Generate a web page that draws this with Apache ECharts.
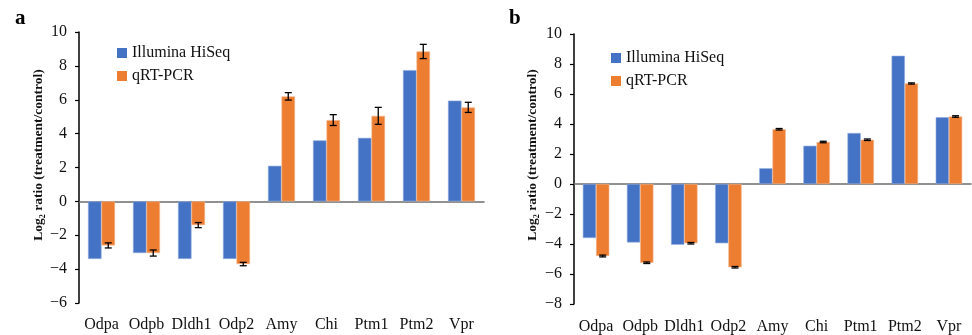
<!DOCTYPE html>
<html><head><meta charset="utf-8">
<script src="https://cdn.jsdelivr.net/npm/echarts@6/dist/echarts.min.js"></script>
<style>html,body{margin:0;padding:0;background:#fff}#c{width:972px;height:335px}</style>
</head><body><div id="c"></div>
<script>
const categories = ['Odpa','Odpb','Dldh1','Odp2','Amy','Chi','Ptm1','Ptm2','Vpr'];
const seriesNames = ['Illumina HiSeq','qRT-PCR'];
const aHiSeq = [-3.4,-3.05,-3.4,-3.4,2.1,3.6,3.75,7.75,5.95];
const aQPCR = [-2.6,-3.05,-1.4,-3.7,6.2,4.8,5.05,8.85,5.55];
const aQPCRErr = [0.15,0.18,0.15,0.1,0.22,0.32,0.5,0.42,0.3];
const bHiSeq = [-3.6,-3.9,-4.05,-3.95,1.05,2.55,3.4,8.55,4.45];
const bQPCR = [-4.8,-5.25,-3.95,-5.55,3.65,2.8,2.95,6.7,4.5];
const bQPCRErr = [0.06,0.05,0.05,0.05,0.05,0.05,0.05,0.04,0.05];
const aTicks = {min:-6,max:10,interval:2};
const bTicks = {min:-8,max:10,interval:2};

const FONT = 'Liberation Serif';
const BLUE = '#4472C4', ORANGE = '#ED7D31';
const chart = echarts.init(document.getElementById('c'), null, {renderer:'canvas'});

function errItem(params, api){
  const band = api.size([1,0])[0];
  const x = api.coord([api.value(0), 0])[0] + band*0.15;
  const y1 = api.coord([api.value(0), api.value(1)-api.value(2)])[1];
  const y2 = api.coord([api.value(0), api.value(1)+api.value(2)])[1];
  const cap = 3.5;
  const st = {stroke:'#000', lineWidth:1.3};
  return {type:'group', children:[
    {type:'line', shape:{x1:x,y1:y1,x2:x,y2:y2}, style:st},
    {type:'line', shape:{x1:x-cap,y1:y1,x2:x+cap,y2:y1}, style:st},
    {type:'line', shape:{x1:x-cap,y1:y2,x2:x+cap,y2:y2}, style:st}
  ]};
}

function xAxes(gi){
  return [
    {type:'category', gridIndex:gi, data:categories, axisLine:{onZero:true, lineStyle:{color:'#6e6e6e', width:1.5}},
     axisTick:{inside:true, length:5, lineStyle:{color:'#333', width:1.2}}, axisLabel:{show:false}},
    {type:'category', gridIndex:gi, data:categories, position:'bottom', axisLine:{show:false, onZero:false}, axisTick:{show:false},
     axisLabel:{fontFamily:FONT, fontSize:16, color:'#111', margin:gi===0?14:15, interval:0}}
  ];
}
function yAxis(gi, t){
  return {type:'value', gridIndex:gi, min:t.min, max:t.max, interval:t.interval,
    axisLine:{show:true, lineStyle:{color:'#000', width:1.5}},
    axisTick:{show:true, length:4, lineStyle:{color:'#000', width:1.2}},
    splitLine:{show:false},
    axisLabel:{fontFamily:FONT, fontSize:16, color:'#111', margin:12,
      formatter: v => (v<0 ? '\u2212'+Math.abs(v) : String(v))}};
}
function bars(xi, yi, hi, q, err){
  return [
    {name:seriesNames[0], type:'bar', xAxisIndex:xi, yAxisIndex:yi, data:hi, barWidth:'30%', barGap:'0%',
     itemStyle:{color:BLUE, borderColor:'#8fa9dc', borderWidth:0.6}},
    {name:seriesNames[1], type:'bar', xAxisIndex:xi, yAxisIndex:yi, data:q, barWidth:'30%', barGap:'0%',
     itemStyle:{color:ORANGE, borderColor:'#f4b48a', borderWidth:0.6}},
    {type:'custom', xAxisIndex:xi, yAxisIndex:yi, renderItem:errItem, encode:{x:0,y:1}, z:5,
     data: q.map((v,i)=>[i, v, err[i]])}
  ];
}

const yName = 'Log\u2082 ratio (treatment/control)';
const legendCommon = {orient:'vertical', itemWidth:10, itemHeight:10, itemGap:7, data:seriesNames,
  itemStyle:{borderWidth:0}, textStyle:{fontFamily:FONT, fontSize:16, color:'#111'}, icon:'rect', selectedMode:false};
chart.setOption({
  animation:false,
  textStyle:{fontFamily:FONT},
  grid:[
    {left:79, top:32, width:405, bottom:32},
    {left:574, top:34, width:397, bottom:30}
  ],
  xAxis:[...xAxes(0), ...xAxes(1)],
  yAxis:[yAxis(0,aTicks), yAxis(1,bTicks)],
  legend:[
    Object.assign({left:112, top:40}, legendCommon),
    Object.assign({left:606, top:45}, legendCommon)
  ],
  graphic:[
    {type:'text', left:15, top:8, style:{text:'a', font:'bold 21px "'+FONT+'"', fill:'#000'}},
    {type:'text', left:509, top:8, style:{text:'b', font:'bold 21px "'+FONT+'"', fill:'#000'}},
    {type:'text', x:39, y:155, rotation:Math.PI/2, style:{text:yName, font:'bold 13.5px "'+FONT+'"', fill:'#111', align:'center', verticalAlign:'middle'}},
    {type:'text', x:533, y:155, rotation:Math.PI/2, style:{text:yName, font:'bold 13.5px "'+FONT+'"', fill:'#111', align:'center', verticalAlign:'middle'}}
  ],
  series:[...bars(0,0,aHiSeq,aQPCR,aQPCRErr), ...bars(2,1,bHiSeq,bQPCR,bQPCRErr)]
});
</script></body></html>
